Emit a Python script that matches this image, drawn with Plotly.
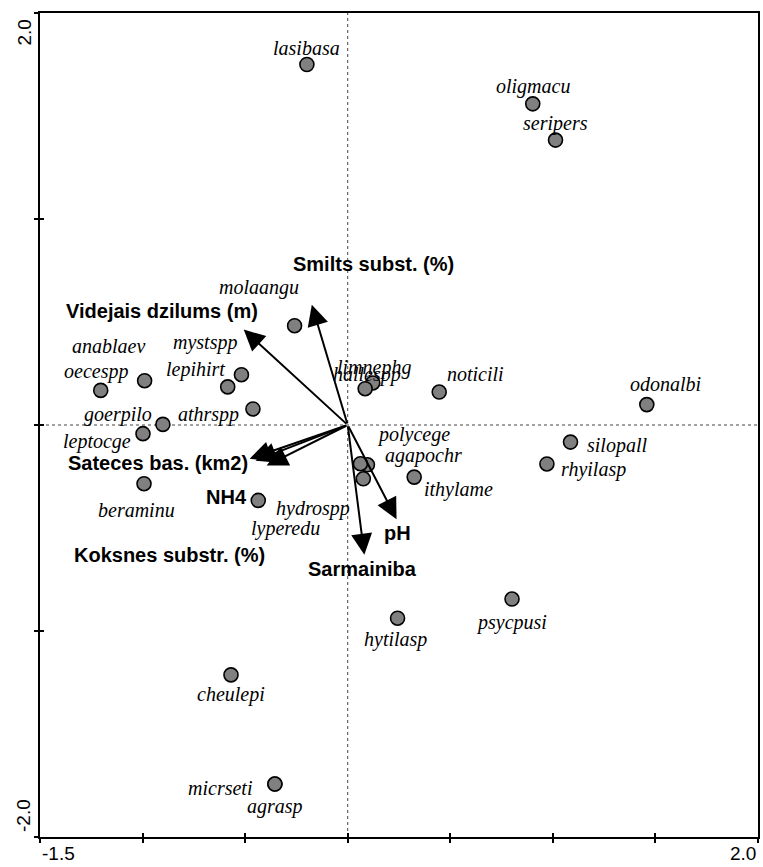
import plotly.graph_objects as go

# Species scores (axis 1, axis 2)
species = ["lasibasa", "oligmacu", "seripers", "molaangu", "anablaev", "oecespp",
           "mystspp", "lepihirt", "athrspp", "goerpilo", "leptocge", "beraminu",
           "hydrospp", "lyperedu", "limnephg", "hallespp", "noticili", "odonalbi",
           "polycege", "agapochr", "ithylame", "silopall", "rhyilasp", "hytilasp",
           "psycpusi", "cheulepi", "micrseti", "agrasp"]
species_x = [-0.199, 0.902, 1.013, -0.259, -0.990, -1.204,
             -0.518, -0.585, -0.462, -0.901, -0.998, -0.993,
             0.076, -0.436, 0.122, 0.085, 0.446, 1.458,
             0.096, 0.062, 0.324, 1.086, 0.971, 0.243,
             0.801, -0.569, -0.355, -0.355]
species_y = [1.750, 1.559, 1.383, 0.482, 0.215, 0.168,
             0.244, 0.185, 0.078, 0.003, -0.042, -0.285,
             -0.261, -0.366, 0.204, 0.176, 0.160, 0.099,
             -0.193, -0.188, -0.253, -0.083, -0.189, -0.938,
             -0.845, -1.213, -1.743, -1.743]

# Environmental variable biplot arrows (tip coordinates)
env_vars = ["Smilts subst. (%)", "Videjais dzilums (m)", "Sateces bas. (km2)",
            "Koksnes substr. (%)", "NH4", "pH", "Sarmainiba"]
env_x = [-0.175, -0.507, -0.478, -0.449, -0.395, 0.238, 0.081]
env_y = [0.584, 0.463, -0.164, -0.173, -0.197, -0.457, -0.630]

# Axis ticks
x_ticks = [-1.5, -1.0, -0.5, 0.0, 0.5, 1.0, 1.5, 2.0]
y_ticks = [-2.0, -1.0, 0.0, 1.0, 2.0]
x_range = [-1.5, 2.0]
y_range = [-2.0, 2.0]

# Label placement relative to each marker / arrow tip (pixels; +dy is downward)
species_label_dx = [0, 0, 0, -36, -36, -5, -36, -32, -44, -45, -46, -8,
                    -50, 27, 1, 2, 36, 19, 46, 63, 44, 46, 47, -2, -1, 0, -55, 0]
species_label_dy = [-17, -17, -17, -38, -35, -19, -32, -17, 6, -10, 8, 26,
                    30, 28, -15, -14, -18, -21, -30, -8, 12, 3, 6, 21, 23, 20, 4, 22]
env_label_dx = [62, -82, -92, -86, -40, 1, -2]
env_label_dy = [-41, -19, 4, 94, 31, 14, 14]

fig = go.Figure()

# dotted origin cross-hairs
fig.add_shape(type="line", x0=0, x1=0, y0=y_range[0], y1=y_range[1], xref="x", yref="y",
              line=dict(color="#444444", width=1, dash="dot"), layer="below")
fig.add_shape(type="line", x0=x_range[0], x1=x_range[1], y0=0, y1=0, xref="x", yref="y",
              line=dict(color="#444444", width=1, dash="dot"), layer="below")

fig.add_trace(go.Scatter(
    x=species_x, y=species_y, mode="markers",
    marker=dict(size=14, color="#808080", line=dict(color="black", width=1.6)),
    hovertext=species, hoverinfo="text", showlegend=False,
))

annotations = []
for name, x, y, dx, dy in zip(species, species_x, species_y, species_label_dx, species_label_dy):
    annotations.append(dict(
        x=x, y=y, xref="x", yref="y", text=f"<i>{name}</i>", showarrow=False,
        xanchor="center", yanchor="middle", xshift=dx, yshift=-dy,
        font=dict(family="Liberation Serif", size=20, color="black"),
    ))

for name, x, y, dx, dy in zip(env_vars, env_x, env_y, env_label_dx, env_label_dy):
    annotations.append(dict(
        x=x, y=y, xref="x", yref="y", ax=0, ay=0, axref="x", ayref="y",
        text="", showarrow=True, arrowhead=2, arrowsize=2.1, arrowwidth=2,
        arrowcolor="black", standoff=0, startstandoff=0,
    ))
    annotations.append(dict(
        x=x, y=y, xref="x", yref="y", text=f"<b>{name}</b>", showarrow=False,
        xanchor="center", yanchor="middle", xshift=dx, yshift=-dy,
        font=dict(family="Liberation Sans", size=20, color="black"),
    ))

# end-of-axis tick labels
tick_font = dict(family="Liberation Sans", size=19, color="black")
annotations += [
    dict(x=x_ticks[0], y=0, xref="x", yref="paper", text="-1.5", showarrow=False,
         xanchor="left", yanchor="top", yshift=-4, font=tick_font),
    dict(x=x_ticks[-1], y=0, xref="x", yref="paper", text="2.0", showarrow=False,
         xanchor="right", yanchor="top", yshift=-4, font=tick_font),
    dict(x=0, y=y_ticks[-1], xref="paper", yref="y", text="2.0", showarrow=False,
         xanchor="right", yanchor="top", xshift=-4, yshift=-5, textangle=-90, font=tick_font),
    dict(x=0, y=y_ticks[0], xref="paper", yref="y", text="-2.0", showarrow=False,
         xanchor="right", yanchor="bottom", xshift=-4, yshift=3, textangle=-90, font=tick_font),
]

axis_common = dict(showgrid=False, zeroline=False, showticklabels=False,
                   tickcolor="black", tickwidth=2, ticklen=4)

fig.update_layout(
    width=763, height=867,
    margin=dict(l=40, r=3, t=13, b=30),
    paper_bgcolor="white", plot_bgcolor="white",
    showlegend=False,
    xaxis=dict(range=x_range, tickvals=x_ticks, ticks="outside", showline=True,
               linecolor="black", linewidth=2, mirror=True, **axis_common),
    yaxis=dict(range=y_range, tickvals=y_ticks, ticks="outside", showline=True,
               linecolor="black", linewidth=2, mirror=True, **axis_common),
    xaxis2=dict(range=x_range, tickvals=x_ticks, ticks="inside", overlaying="x",
                side="bottom", anchor="y", showline=False, **axis_common),
    yaxis2=dict(range=y_range, tickvals=y_ticks, ticks="inside", overlaying="y",
                side="left", anchor="x", showline=False, **axis_common),
    annotations=annotations,
)

# invisible trace to activate the overlay axes carrying the inner tick halves
fig.add_trace(go.Scatter(x=[x_range[0]], y=[y_range[0]], xaxis="x2", yaxis="y2",
                         mode="markers", marker=dict(opacity=0), hoverinfo="skip",
                         showlegend=False))

fig.write_html("out.html")
